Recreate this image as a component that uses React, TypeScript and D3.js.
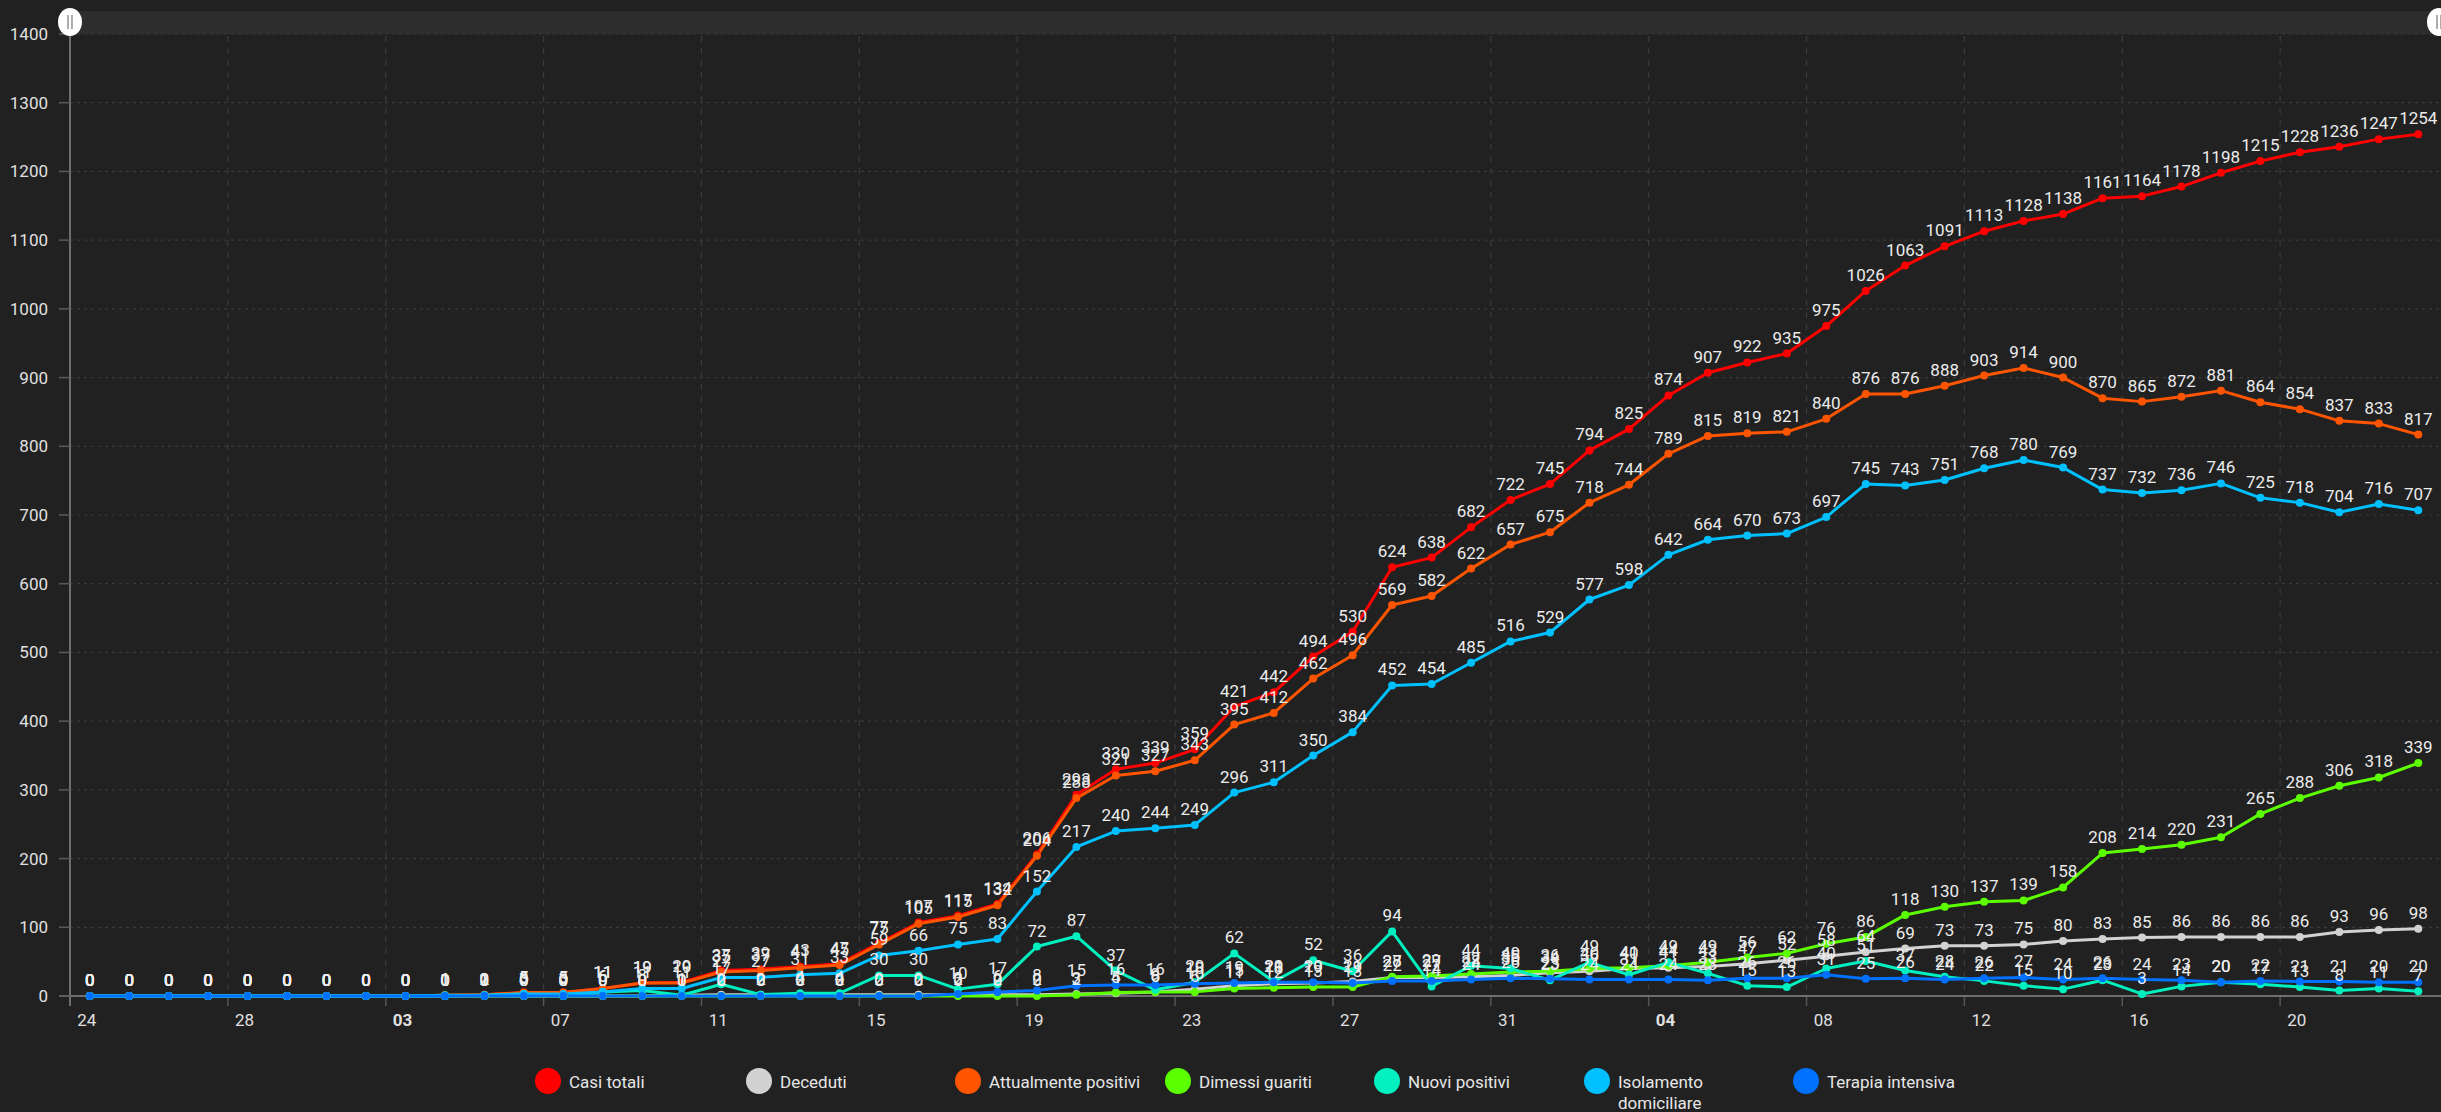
import React from "react";
import * as d3 from "d3";

const dates = [
  "2020-02-24","2020-02-25","2020-02-26","2020-02-27","2020-02-28","2020-02-29","2020-03-01","2020-03-02",
  "2020-03-03","2020-03-04","2020-03-05","2020-03-06","2020-03-07","2020-03-08","2020-03-09","2020-03-10",
  "2020-03-11","2020-03-12","2020-03-13","2020-03-14","2020-03-15","2020-03-16","2020-03-17","2020-03-18",
  "2020-03-19","2020-03-20","2020-03-21","2020-03-22","2020-03-23","2020-03-24","2020-03-25","2020-03-26",
  "2020-03-27","2020-03-28","2020-03-29","2020-03-30","2020-03-31","2020-04-01","2020-04-02","2020-04-03",
  "2020-04-04","2020-04-05","2020-04-06","2020-04-07","2020-04-08","2020-04-09","2020-04-10","2020-04-11",
  "2020-04-12","2020-04-13","2020-04-14","2020-04-15","2020-04-16","2020-04-17","2020-04-18","2020-04-19",
  "2020-04-20","2020-04-21","2020-04-22","2020-04-23",
];

const casiTotali = [
  0,0,0,0,0,0,0,0,
  0,1,2,5,5,11,19,20,
  37,39,43,47,
  77,107,117,134,206,293,330,339,359,421,
  442,494,530,624,638,682,722,745,794,825,
  874,907,922,935,975,1026,1063,1091,1113,1128,
  1138,1161,1164,1178,1198,1215,1228,1236,1247,1254,
];

const deceduti = [
  0,0,0,0,0,0,0,0,0,0,0,0,0,0,0,
  1,
  2,2,2,2,2,2,2,2,2,
  3,4,6,10,15,
  18,19,21,27,27,28,30,34,36,40,
  41,43,47,52,58,64,69,73,73,75,
  80,83,85,86,86,86,86,93,96,98,
];

const attualmentePositivi = [
  0,0,0,0,0,0,0,0,
  0,1,2,5,5,11,19,19,
  35,37,41,45,
  75,105,115,132,204,288,321,327,343,395,
  412,462,496,569,582,622,657,675,718,744,
  789,815,819,821,840,876,876,888,903,914,
  900,870,865,872,881,864,854,837,833,817,
];

const dimessiGuariti = [
  0,0,0,0,0,0,0,0,0,0,0,0,0,0,0,0,0,0,0,0,0,0,0,0,0,
  2,5,6,6,11,
  12,13,13,28,29,32,35,36,40,41,
  44,49,56,62,76,86,118,130,137,139,
  158,208,214,220,231,265,288,306,318,339,
];

const nuoviPositivi = [
  0,0,0,0,0,0,0,0,
  0,1,1,3,0,6,8,1,
  17,2,4,4,
  30,30,10,17,72,87,37,9,20,62,
  21,52,36,94,14,44,40,23,49,31,
  49,33,15,13,40,51,37,28,22,15,
  10,23,3,14,20,17,13,8,11,7,
];

const isolamentoDomiciliare = [
  0,0,0,0,0,0,0,0,
  0,0,1,3,3,6,11,11,
  27,27,31,33,
  59,66,75,83,152,217,240,244,249,296,
  311,350,384,452,454,485,516,529,577,598,
  642,664,670,673,697,745,743,751,768,780,
  769,737,732,736,746,725,718,704,716,707,
];

const terapiaIntensiva = [
  0,0,0,0,0,0,0,0,0,0,0,0,0,0,0,0,0,0,0,0,0,0,
  3,6,8,15,16,16,18,19,
  20,20,19,22,22,24,26,25,24,24,
  24,23,26,26,31,25,26,24,26,27,
  24,26,24,23,20,22,21,21,20,20,
];

const seriesNames = [
  "Casi totali",
  "Deceduti",
  "Attualmente positivi",
  "Dimessi guariti",
  "Nuovi positivi",
  "Isolamento domiciliare",
  "Terapia intensiva",
];
const seriesColors = ["#ff0000", "#d2d2d2", "#ff5500", "#5cff00", "#00f0c0", "#00c0ff", "#0070ff"];
const seriesValues = [
  casiTotali,
  deceduti,
  attualmentePositivi,
  dimessiGuariti,
  nuoviPositivi,
  isolamentoDomiciliare,
  terapiaIntensiva,
];

const xTickDates = [
  "2020-02-24","2020-02-28","2020-03-03","2020-03-07","2020-03-11","2020-03-15","2020-03-19","2020-03-23",
  "2020-03-27","2020-03-31","2020-04-04","2020-04-08","2020-04-12","2020-04-16","2020-04-20",
];
const yTickValues = [0,100,200,300,400,500,600,700,800,900,1000,1100,1200,1300,1400];

const W = 2441;
const H = 1112;
const FONT = "Roboto, 'Noto Sans', sans-serif";

export default function App() {
  const parse = d3.utcParse("%Y-%m-%d");
  const days = dates.map((d) => parse(d) as Date);
  const x = d3
    .scaleUtc()
    .domain([days[0], d3.utcDay.offset(days[days.length - 1], 1)])
    .range([70, 2438]);
  const y = d3.scaleLinear().domain([0, 1400]).range([996, 34]);
  const mid = (d: Date) => x(d3.utcHour.offset(d, 12));

  const line = d3
    .line<number>()
    .x((_, i) => mid(days[i]))
    .y((v) => y(v));

  const tickDates = xTickDates.map((d) => parse(d) as Date);
  const fmt = d3.utcFormat("%d");

  const legendX = [548, 759, 968, 1178, 1387, 1597, 1806];

  React.useEffect(() => {
    document.body.style.margin = "0";
    document.body.style.background = "#212121";
  }, []);

  return (
    <svg
      width={W}
      height={H}
      style={{ position: "absolute", left: 0, top: 0, display: "block", background: "#212121" }}
      fontFamily={FONT}
    >
      <rect x={0} y={0} width={W} height={H} fill="#212121" />
      {/* scrollbar band */}
      <rect x={70} y={11} width={2371} height={23} fill="#2d2d2d" />

      {/* horizontal grid */}
      {yTickValues.map((v) =>
        v === 0 ? null : (
          <line key={"hg" + v} x1={70} x2={2441} y1={y(v)} y2={y(v)} stroke="#3a3a3a" strokeWidth={1.2} strokeDasharray="3,4" />
        )
      )}
      {/* vertical grid */}
      {tickDates.slice(1).map((d, i) => (
        <g key={"vg" + i}>
          <line x1={x(d)} x2={x(d)} y1={36} y2={996} stroke="#3a3a3a" strokeWidth={1.2} strokeDasharray="6,6" />
          <line x1={x(d)} x2={x(d)} y1={996} y2={1006} stroke="#555" strokeWidth={1.5} />
        </g>
      ))}

      {/* axes */}
      <line x1={70} x2={70} y1={22} y2={1006} stroke="#6e6e6e" strokeWidth={2} />
      <line x1={59} x2={2441} y1={996} y2={996} stroke="#6e6e6e" strokeWidth={2} />
      {yTickValues.map((v) => (
        <g key={"yt" + v}>
          <line x1={59} x2={70} y1={y(v)} y2={y(v)} stroke="#5a5a5a" strokeWidth={1.5} />
          <text x={48} y={y(v) + 6} textAnchor="end" fontSize={17} fill="#e0e0e0">
            {v}
          </text>
        </g>
      ))}
      {tickDates.map((d, i) => {
        const bold = i > 0 && d.getUTCMonth() !== tickDates[i - 1].getUTCMonth();
        return (
          <text
            key={"xt" + i}
            x={mid(d) - 3}
            y={1026}
            textAnchor="middle"
            fontSize={17}
            fontWeight={bold ? 700 : 400}
            fill="#e0e0e0"
          >
            {fmt(d)}
          </text>
        );
      })}

      {/* lines */}
      {seriesValues.map((vals, s) => (
        <path key={"l" + s} d={line(vals) || ""} fill="none" stroke={seriesColors[s]} strokeWidth={3} strokeLinejoin="round" />
      ))}
      {/* points */}
      {seriesValues.map((vals, s) => (
        <g key={"p" + s}>
          {vals.map((v, i) => (
            <circle key={i} cx={mid(days[i])} cy={y(v)} r={4} fill={seriesColors[s]} />
          ))}
        </g>
      ))}
      {/* labels */}
      {seriesValues.map((vals, s) => (
        <g key={"t" + s}>
          {vals.map((v, i) => (
            <text key={i} x={mid(days[i])} y={y(v) - 10} textAnchor="middle" fontSize={17} fill="#ececec">
              {v}
            </text>
          ))}
        </g>
      ))}

      {/* scrollbar grips */}
      {[70, 2439].map((gx, i) => (
        <g key={"grip" + i}>
          <ellipse cx={gx} cy={22} rx={12} ry={14} fill="#ffffff" />
          <line x1={gx - 2} x2={gx - 2} y1={15} y2={29} stroke="#777" strokeWidth={1.2} />
          <line x1={gx + 2} x2={gx + 2} y1={15} y2={29} stroke="#777" strokeWidth={1.2} />
        </g>
      ))}

      {/* legend */}
      {seriesNames.map((name, s) => {
        const lx = legendX[s];
        const parts = name === "Isolamento domiciliare" ? ["Isolamento", "domiciliare"] : [name];
        return (
          <g key={"lg" + s}>
            <circle cx={lx} cy={1081} r={13} fill={seriesColors[s]} />
            {parts.map((p, k) => (
              <text key={k} x={lx + 21} y={1088 + k * 21} fontSize={17} fill="#e6e6e6">
                {p}
              </text>
            ))}
          </g>
        );
      })}
    </svg>
  );
}
